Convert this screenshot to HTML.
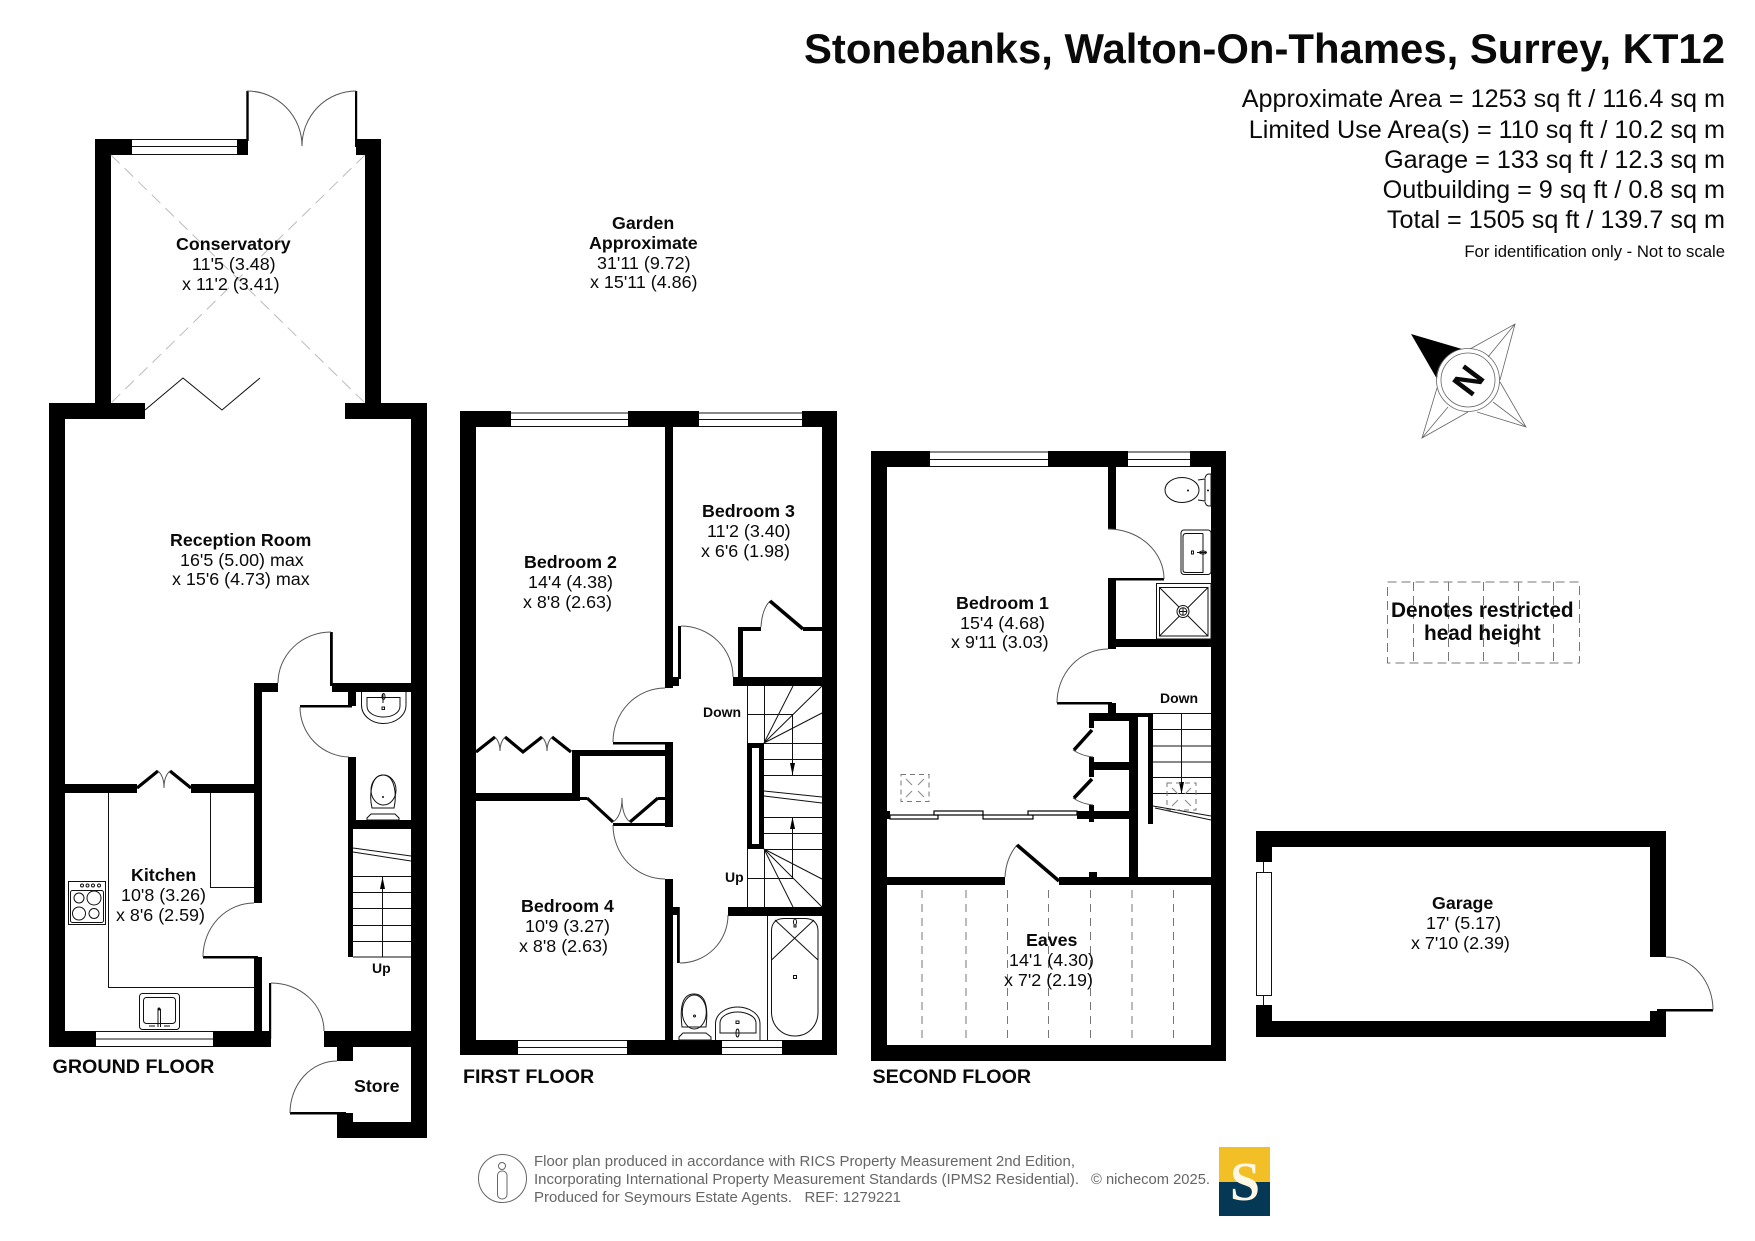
<!DOCTYPE html>
<html><head><meta charset="utf-8"><style>
html,body{margin:0;padding:0;background:#fff}
svg{display:block}
text{font-family:"Liberation Sans",Arial,sans-serif;fill:#0a0a0a}
.b{font-weight:bold;font-size:17.8px}
.r{font-size:17.9px}
.f{font-weight:bold;font-size:19.7px}
.s{font-weight:bold;font-size:14px}
.a{font-size:25.2px;text-anchor:end}
.t{stroke:#111;stroke-width:1;fill:none}
.h{stroke:#555;stroke-width:1;fill:none}
.k{stroke:#000;stroke-width:3.5;fill:none}
.w{stroke:#000;stroke-width:1.2;fill:#fff}
.d{stroke:#777;stroke-width:1;fill:none;stroke-dasharray:8 6}
.ft{font-size:14.5px;fill:#666}
</style></head><body>
<svg width="1755" height="1241" viewBox="0 0 1755 1241" xmlns="http://www.w3.org/2000/svg">
<rect width="1755" height="1241" fill="#fff"/>

<!-- Header -->
<text x="804" y="63" font-weight="bold" font-size="41.5" textLength="921" lengthAdjust="spacingAndGlyphs">Stonebanks, Walton-On-Thames, Surrey, KT12</text>
<text class="a" x="1725" y="107">Approximate Area = 1253 sq ft / 116.4 sq m</text>
<text class="a" x="1725" y="138">Limited Use Area(s) = 110 sq ft / 10.2 sq m</text>
<text class="a" x="1725" y="168">Garage = 133 sq ft / 12.3 sq m</text>
<text class="a" x="1725" y="198">Outbuilding = 9 sq ft / 0.8 sq m</text>
<text class="a" x="1725" y="228">Total = 1505 sq ft / 139.7 sq m</text>
<text x="1725" y="257" font-size="16.7" text-anchor="end">For identification only - Not to scale</text>

<!-- Garden -->
<text class="b" x="612" y="229">Garden</text>
<text class="b" x="589" y="249">Approximate</text>
<text class="r" x="597" y="269">31'11 (9.72)</text>
<text class="r" x="590" y="288">x 15'11 (4.86)</text>

<!-- GROUND FLOOR walls -->
<g fill="#000">
<rect x="95" y="139" width="16" height="270"/><rect x="365" y="139" width="16" height="270"/>
<rect x="95" y="139" width="37" height="16"/><rect x="237" y="139" width="11" height="16"/><rect x="356" y="139" width="25" height="16"/>
<rect x="246.3" y="91" width="2.4" height="50"/><rect x="355" y="91" width="2.2" height="56"/>
<rect x="49" y="403" width="96" height="16"/><rect x="345" y="403" width="82" height="16"/>
<rect x="49" y="403" width="16" height="644"/><rect x="411" y="403" width="16" height="735"/>
<rect x="49" y="1031" width="47" height="16"/><rect x="213" y="1031" width="58" height="16"/><rect x="324" y="1031" width="87" height="16"/>
<rect x="254" y="683" width="8" height="220"/><rect x="254" y="957" width="8" height="74"/><rect x="254" y="683" width="24" height="9"/>
<rect x="65" y="784" width="72" height="9"/><rect x="191" y="784" width="63" height="9"/>
<rect x="203" y="956" width="55" height="2.5"/>
<rect x="269" y="983" width="2.2" height="56"/>
<rect x="337" y="1047" width="16" height="14"/><rect x="337" y="1113" width="16" height="25"/><rect x="337" y="1122" width="90" height="16"/>
<rect x="290" y="1112" width="56" height="2.5"/>
<rect x="330" y="632" width="2.8" height="54"/><rect x="332" y="683" width="79" height="9"/>
<rect x="348" y="692" width="8" height="14"/><rect x="300" y="705" width="52" height="2.5"/>
<rect x="348" y="757" width="8" height="63"/><rect x="348" y="820" width="63" height="9"/><rect x="348" y="829" width="5" height="128"/>
</g>
<!-- ground windows -->
<path class="t" d="M132 139.5H237M132 146.5H237M132 154.5H237M96 1031.5H213M96 1039H213M96 1046.5H213"/>
<!-- conservatory roof -->
<path d="M111 155L365 403M365 155L111 403" stroke="#bbb" stroke-width="1" stroke-dasharray="12 7" fill="none"/>
<!-- ground doors -->
<path class="h" d="M247 91A55 55 0 0 1 302 146M356 91A54 55 0 0 0 302 146M331 632A53 51 0 0 0 278 683M300 707A50 50 0 0 0 349 757M254 903A51 54 0 0 0 203 957M271 983A53 48 0 0 1 324 1031M337 1061A47 52 0 0 0 290 1113"/>
<path class="t" d="M145 410L183 378L222 410L260 378"/>
<path d="M137 788L158 771M191 788L170 771" stroke="#000" stroke-width="3.2" fill="none"/>
<path class="h" d="M158 771Q164 776 164 788M170 771Q164 776 164 788"/>
<!-- kitchen worktops -->
<path class="t" d="M108.500 793V987.500H254M210.500 793V887.500H254"/>
<!-- hob -->
<rect class="t" x="68.500" y="881.500" width="37" height="43"/>
<rect class="t" x="70.500" y="890.500" width="33" height="32" rx="2"/>
<circle class="t" cx="79" cy="898" r="5"/><circle class="t" cx="94" cy="898" r="7"/><circle class="t" cx="79" cy="913.500" r="6.500"/><circle class="t" cx="94" cy="913.500" r="5"/>
<circle class="t" cx="82" cy="885.500" r="1.500"/><circle class="t" cx="87.500" cy="885.500" r="1.500"/><circle class="t" cx="93" cy="885.500" r="1.500"/><circle class="t" cx="99" cy="885.500" r="1.500"/>
<!-- sink -->
<rect class="t" x="139.500" y="993.500" width="40" height="36" rx="3"/>
<rect class="t" x="143.500" y="997.500" width="32" height="26" rx="3"/>
<path d="M158 1009V1027M160.500 1009V1027" stroke="#111" stroke-width="1"/><circle cx="159" cy="1009" r="1.500" fill="#111"/>
<path class="t" d="M149 1026H155M164 1026H170"/>
<!-- WC basin -->
<path class="t" d="M361.500 692V705C361.500 716 372 723.500 383.500 723.500S406 716 406 705V692"/>
<path class="t" d="M367 697.500H400V706C400 713 392 717 383.500 717S367 713 367 706Z"/>
<path class="t" d="M383 694V703"/><rect class="t" x="382" y="707" width="2.500" height="2.500"/><ellipse class="t" cx="383.500" cy="696.500" rx="1.500" ry="3"/>
<!-- WC toilet -->
<path class="t" d="M372 808C369 795 371 775 383 775S397 795 394 808Z"/><ellipse class="t" cx="383.500" cy="790" rx="12.500" ry="15"/>
<path class="t" d="M371 814L367 818V820H399V818L395 814Z"/><circle cx="383" cy="797" r="1" fill="#111"/>
<!-- ground stairs -->
<path class="t" d="M353 876.500H411M353 892.500H411M353 908.500H411M353 925.500H411M353 941.500H411M353 957H411M353 848L411 856M353 852L411 861M382.500 877V957"/>
<path d="M382.500 877L380 889H385Z" fill="#000"/>
<!-- ground labels -->
<text class="b" x="176" y="250">Conservatory</text>
<text class="r" x="192" y="270">11'5 (3.48)</text>
<text class="r" x="182" y="290">x 11'2 (3.41)</text>
<text class="b" x="170" y="546">Reception Room</text>
<text class="r" x="180" y="566">16'5 (5.00) max</text>
<text class="r" x="172" y="585">x 15'6 (4.73) max</text>
<text class="b" x="131" y="881">Kitchen</text>
<text class="r" x="121" y="901">10'8 (3.26)</text>
<text class="r" x="116" y="921">x 8'6 (2.59)</text>
<text class="b" x="354" y="1092">Store</text>
<text class="s" x="372" y="973">Up</text>
<text class="f" x="52.500" y="1073">GROUND FLOOR</text>

<!-- FIRST FLOOR walls -->
<g fill="#000">
<rect x="460" y="411" width="16" height="644"/><rect x="822" y="411" width="15" height="644"/>
<rect x="460" y="411" width="51" height="16"/><rect x="628" y="411" width="71" height="16"/><rect x="802" y="411" width="35" height="16"/>
<rect x="460" y="1040" width="58" height="15"/><rect x="627" y="1040" width="95" height="15"/><rect x="782" y="1040" width="55" height="15"/>
<rect x="665" y="427" width="8" height="261"/><rect x="673" y="677" width="6" height="9"/><rect x="678" y="626" width="3" height="53"/>
<rect x="733" y="677" width="89" height="9"/>
<rect x="738" y="627" width="5" height="51"/><rect x="738" y="627" width="23" height="4"/><rect x="803" y="627" width="19" height="4"/>
<rect x="613" y="742" width="56" height="2.500"/><rect x="665" y="742" width="8" height="85"/><rect x="613" y="823" width="60" height="3"/>
<rect x="665" y="879" width="8" height="161"/><rect x="673" y="907" width="6" height="8"/><rect x="677" y="907" width="2.800" height="56"/>
<rect x="728" y="907" width="94" height="9"/>
<rect x="572" y="750" width="93" height="6"/><rect x="572" y="750" width="8" height="51"/><rect x="476" y="793" width="104" height="8"/>
<rect x="580" y="797" width="7" height="3"/><rect x="658" y="797" width="7" height="3"/>
<path fill-rule="evenodd" d="M747 743H764V849H747ZM752 748V844H759V748Z"/>
</g>
<path class="t" d="M511 413H628M511 419.500H628M511 426.500H628M699 413H802M699 419.500H802M699 426.500H802M518 1040.500H627M518 1047.500H627M518 1054.500H627M722 1040.500H782M722 1047.500H782M722 1054.500H782"/>
<path class="h" d="M681 626A52 51 0 0 1 733 677M665 688A52 54 0 0 0 613 742M613 825A52 54 0 0 0 665 879M680 963A48 48 0 0 0 728 915M761 627Q762 609 770 601"/>
<path class="k" d="M770 601L803 629"/>
<!-- wardrobe bifold -->
<path d="M476 752L495 737M505 737L523 752L542 737M552 737L571 752" stroke="#000" stroke-width="3.200" fill="none"/>
<path class="h" d="M495 737Q500 742 500 751M505 737Q500 742 500 751M542 737Q547 742 547 751M552 737Q547 742 547 751"/>
<path d="M587 798L613 822M630 822L658 798" stroke="#000" stroke-width="3.200" fill="none"/>
<path class="h" d="M613 822Q622 816 622 798M630 822Q622 816 622 798"/>
<!-- stairs 1F -->
<path class="t" d="M747.500 686V743M764.500 686V743M747 714.500H792.500V775M764 743.500H822M764 759.500H822M764 775.500H822M764 791L822 797M764 796L822 803M764 817.500H822M764 833.500H822M764 849.500H822M764 743L793 686M764 743L822 686M764 743L822 713M764 849L822 879M764 849L822 907M764 849L793 907M747.500 849V907M764.500 849V907M747 878.500H792.500V817"/>
<path d="M792.500 775L790 763H795ZM792.500 817L790 829H795Z" fill="#000"/>
<!-- bath -->
<path class="t" d="M767.500 916V1040M771.500 931C771.500 923 776 918.500 784 918.500H805C813 918.500 818 923 818 931V1012C818 1026 808 1036 795 1036S771.500 1026 771.500 1012Z"/>
<path class="t" d="M775 920L818 960M814 920L771.500 960"/>
<rect class="t" x="793.500" y="975.500" width="3" height="3"/><ellipse class="t" cx="795" cy="922" rx="1.500" ry="3"/><path class="t" d="M794 925V927H796V925"/>
<!-- 1F toilet -->
<path class="t" d="M682 1027C680 1010 681 994 694 994S708 1010 706 1027Z"/><ellipse class="t" cx="694.300" cy="1012" rx="12" ry="17"/>
<path class="t" d="M683 1033L679 1037V1040H711V1037L706 1033Z"/><circle class="t" cx="694.500" cy="1016" r="1"/>
<!-- 1F basin -->
<path class="t" d="M715.500 1040V1024C715.500 1013 727 1007 737.500 1007S760 1013 760 1024V1040"/>
<path class="t" d="M720 1033V1023C720 1016 729 1012 737.500 1012S756 1016 756 1023V1033Z"/>
<rect class="t" x="736" y="1021" width="3" height="2.500"/><ellipse class="t" cx="737.500" cy="1033" rx="1.500" ry="4"/>
<!-- 1F labels -->
<text class="b" x="524" y="568">Bedroom 2</text>
<text class="r" x="528" y="588">14'4 (4.38)</text>
<text class="r" x="523" y="608">x 8'8 (2.63)</text>
<text class="b" x="702" y="517">Bedroom 3</text>
<text class="r" x="707" y="537">11'2 (3.40)</text>
<text class="r" x="701" y="557">x 6'6 (1.98)</text>
<text class="b" x="521" y="912">Bedroom 4</text>
<text class="r" x="525" y="932">10'9 (3.27)</text>
<text class="r" x="519" y="952">x 8'8 (2.63)</text>
<text class="s" x="703" y="717">Down</text>
<text class="s" x="725" y="882">Up</text>
<text class="f" x="463" y="1083">FIRST FLOOR</text>

<!-- SECOND FLOOR walls -->
<g fill="#000">
<rect x="871" y="451" width="16" height="610"/><rect x="1211" y="451" width="15" height="610"/>
<rect x="871" y="451" width="59" height="16"/><rect x="1048" y="451" width="80" height="16"/><rect x="1190" y="451" width="36" height="16"/>
<rect x="871" y="1045" width="355" height="16"/>
<rect x="887" y="877" width="118" height="8"/><rect x="1059" y="877" width="152" height="8"/>
<rect x="1108" y="467" width="8" height="62"/><rect x="1108" y="578" width="8" height="71"/><rect x="1111" y="578" width="53" height="2.500"/>
<rect x="1116" y="639" width="95" height="8"/>
<rect x="1057" y="702" width="55" height="2.500"/><rect x="1108" y="703" width="8" height="11"/>
<rect x="1089" y="713" width="49" height="8"/><rect x="1129" y="713" width="24" height="4"/>
<rect x="1129" y="713" width="9" height="172"/><rect x="1148" y="713" width="5" height="111"/>
<rect x="1089" y="713" width="5" height="15"/><rect x="1089" y="757" width="5" height="20"/><rect x="1089" y="762" width="40" height="8"/>
<rect x="1089" y="805" width="5" height="17"/><rect x="1077" y="811" width="52" height="8"/>
<rect x="1089" y="872" width="8" height="6"/><rect x="887" y="811" width="3" height="8"/>
</g>
<path class="t" d="M930 452H1048M930 459.500H1048M930 466.500H1048M1128 452H1190M1128 459.500H1190M1128 466.500H1190"/>
<path class="h" d="M1108 529A56 50 0 0 1 1164 579M1108 649A51 54 0 0 0 1057 703M1005 877Q1006 858 1017 845M1073 750Q1082 756 1093 757M1073 798Q1082 804 1093 805"/>
<path class="k" d="M1017 845L1059 881M1092 730L1074 750M1092 779L1074 798"/>
<!-- sliding doors -->
<rect class="w" x="890" y="815" width="48" height="4"/><rect class="w" x="934" y="811" width="49" height="4"/><rect class="w" x="983" y="815" width="50" height="4"/><rect class="w" x="1028" y="811" width="49" height="4"/>
<!-- eaves dashed -->
<path class="d" d="M922 890V1041M966 890V1041M1007.500 890V1041M1048.500 890V1041M1090.500 890V1041M1132 890V1041M1173.500 890V1041"/>
<!-- stairs 2F -->
<path class="t" d="M1153 713.500H1211M1153 729.500H1211M1153 746H1211M1153 762H1211M1153 777.500H1211M1153 793.500H1211M1181.500 713V793M1153 806L1211 816M1155 808L1211 820"/>
<path d="M1181.500 794L1179 782H1184Z" fill="#000"/>
<!-- skylights -->
<rect x="1167" y="783" width="29" height="27" fill="none" stroke="#777" stroke-dasharray="5 4"/>
<path d="M1172 788L1178 794M1191 788L1185 794M1172 806L1178 800M1191 806L1185 800" stroke="#888" fill="none"/>
<rect x="901" y="774.500" width="28" height="27" fill="none" stroke="#777" stroke-dasharray="5 4"/>
<path d="M906 779L912 785M924 779L918 785M906 797L912 791M924 797L918 791" stroke="#888" fill="none"/>
<!-- en-suite -->
<ellipse class="t" cx="1182" cy="490" rx="17" ry="12.500"/><path class="t" d="M1198 480L1205 479V501L1198 500M1205 478Q1206 474 1209 474H1211V506H1209Q1206 506 1205 502"/><circle cx="1188" cy="490.500" r="1" fill="#111"/><circle cx="1208" cy="490.500" r="1" fill="#111"/>
<rect class="t" x="1181" y="530" width="30" height="44.500" rx="3"/><path class="t" d="M1203 533.500H1186Q1183 533.500 1183 537V570Q1183 572.500 1186 572.500H1203V533.500"/>
<rect class="t" x="1191.500" y="551" width="2" height="3"/><path class="t" d="M1197 552.500H1206"/><ellipse class="t" cx="1203" cy="552.500" rx="3.500" ry="1.500"/>
<rect class="t" x="1156.500" y="583.500" width="54.500" height="55.500"/><rect class="t" x="1159.500" y="587.500" width="48.500" height="48.500"/>
<path class="t" d="M1159.500 587.500L1208 636M1208 587.500L1159.500 636"/><circle cx="1183" cy="611.500" r="6" fill="#fff" stroke="#111"/><circle class="t" cx="1183" cy="611.500" r="3.800"/><path class="t" d="M1179 611.500H1187M1183 607.500V615.500"/>
<!-- 2F labels -->
<text class="b" x="956" y="609">Bedroom 1</text>
<text class="r" x="960" y="629">15'4 (4.68)</text>
<text class="r" x="951" y="648">x 9'11 (3.03)</text>
<text class="b" x="1026" y="946">Eaves</text>
<text class="r" x="1009" y="966">14'1 (4.30)</text>
<text class="r" x="1004" y="986">x 7'2 (2.19)</text>
<text class="s" x="1160" y="703">Down</text>
<text class="f" x="872.500" y="1083">SECOND FLOOR</text>

<!-- GARAGE -->
<g fill="#000">
<rect x="1256" y="831" width="410" height="16"/><rect x="1256" y="1021" width="410" height="16"/>
<rect x="1256" y="831" width="16" height="31"/><rect x="1256" y="1005" width="16" height="32"/>
<rect x="1650" y="831" width="16" height="126"/><rect x="1650" y="1011" width="16" height="26"/>
<rect x="1657" y="1009" width="56" height="2.500"/>
</g>
<rect class="t" x="1256.500" y="872.500" width="15" height="123"/>
<path class="t" d="M1263.500 862V872M1263.500 995V1005"/>
<path class="h" d="M1666 957A47 53 0 0 1 1713 1010"/>
<text class="b" x="1432" y="909">Garage</text>
<text class="r" x="1426" y="929">17' (5.17)</text>
<text class="r" x="1411" y="949">x 7'10 (2.39)</text>

<!-- Compass -->
<path d="M1411 334L1462 349A32 32 0 0 0 1437 379Z" fill="#000"/>
<path d="M1470 349L1515 324L1500 380M1488 357L1515 324M1500 382L1526 427L1477 412M1493 402L1526 427M1437 388L1422 438L1468 412M1448 407L1422 438" stroke="#666" stroke-width="0.8" fill="none"/>
<circle cx="1468" cy="380" r="31.500" fill="none" stroke="#666" stroke-width="0.8"/><circle cx="1468" cy="380" r="27" fill="#fff" stroke="#666" stroke-width="0.8"/>
<text x="0" y="0" font-weight="bold" font-size="36" text-anchor="middle" transform="translate(1468 380) rotate(-53) translate(0 13)">N</text>

<!-- Restricted -->
<rect x="1387.500" y="582" width="192" height="81" fill="none" stroke="#777" stroke-dasharray="9 5"/>
<path d="M1413.500 582V663M1448.500 582V663M1483.500 582V663M1518.500 582V663M1553.500 582V663" stroke="#777" stroke-dasharray="9 5" fill="none"/>
<text x="1391" y="617" font-weight="bold" font-size="20.800">Denotes restricted</text>
<text x="1424" y="640" font-weight="bold" font-size="20.800">head height</text>

<!-- Footer -->
<circle cx="502.500" cy="1178.500" r="24" fill="none" stroke="#666"/>
<circle cx="502" cy="1166" r="3.500" fill="none" stroke="#666"/>
<rect x="497.500" y="1171" width="9.500" height="28" rx="4.500" fill="none" stroke="#666"/>
<text class="ft" x="534" y="1166" textLength="541" lengthAdjust="spacingAndGlyphs">Floor plan produced in accordance with RICS Property Measurement 2nd Edition,</text>
<text class="ft" x="534" y="1184" textLength="545" lengthAdjust="spacingAndGlyphs">Incorporating International Property Measurement Standards (IPMS2 Residential).</text>
<text class="ft" x="534" y="1202" textLength="367" lengthAdjust="spacingAndGlyphs">Produced for Seymours Estate Agents.&#160;&#160;&#160;REF: 1279221</text>
<text class="ft" x="1091" y="1184" textLength="119" lengthAdjust="spacingAndGlyphs">© nichecom 2025.</text>
<rect x="1219" y="1147" width="51" height="35" fill="#f2bf26"/>
<rect x="1219" y="1182" width="51" height="34" fill="#043854"/>
<text x="1230" y="1200" font-size="55" font-weight="bold" style="font-family:'Liberation Serif',serif;fill:#fdf8e6" textLength="30" lengthAdjust="spacingAndGlyphs">S</text>
</svg>
</body></html>
